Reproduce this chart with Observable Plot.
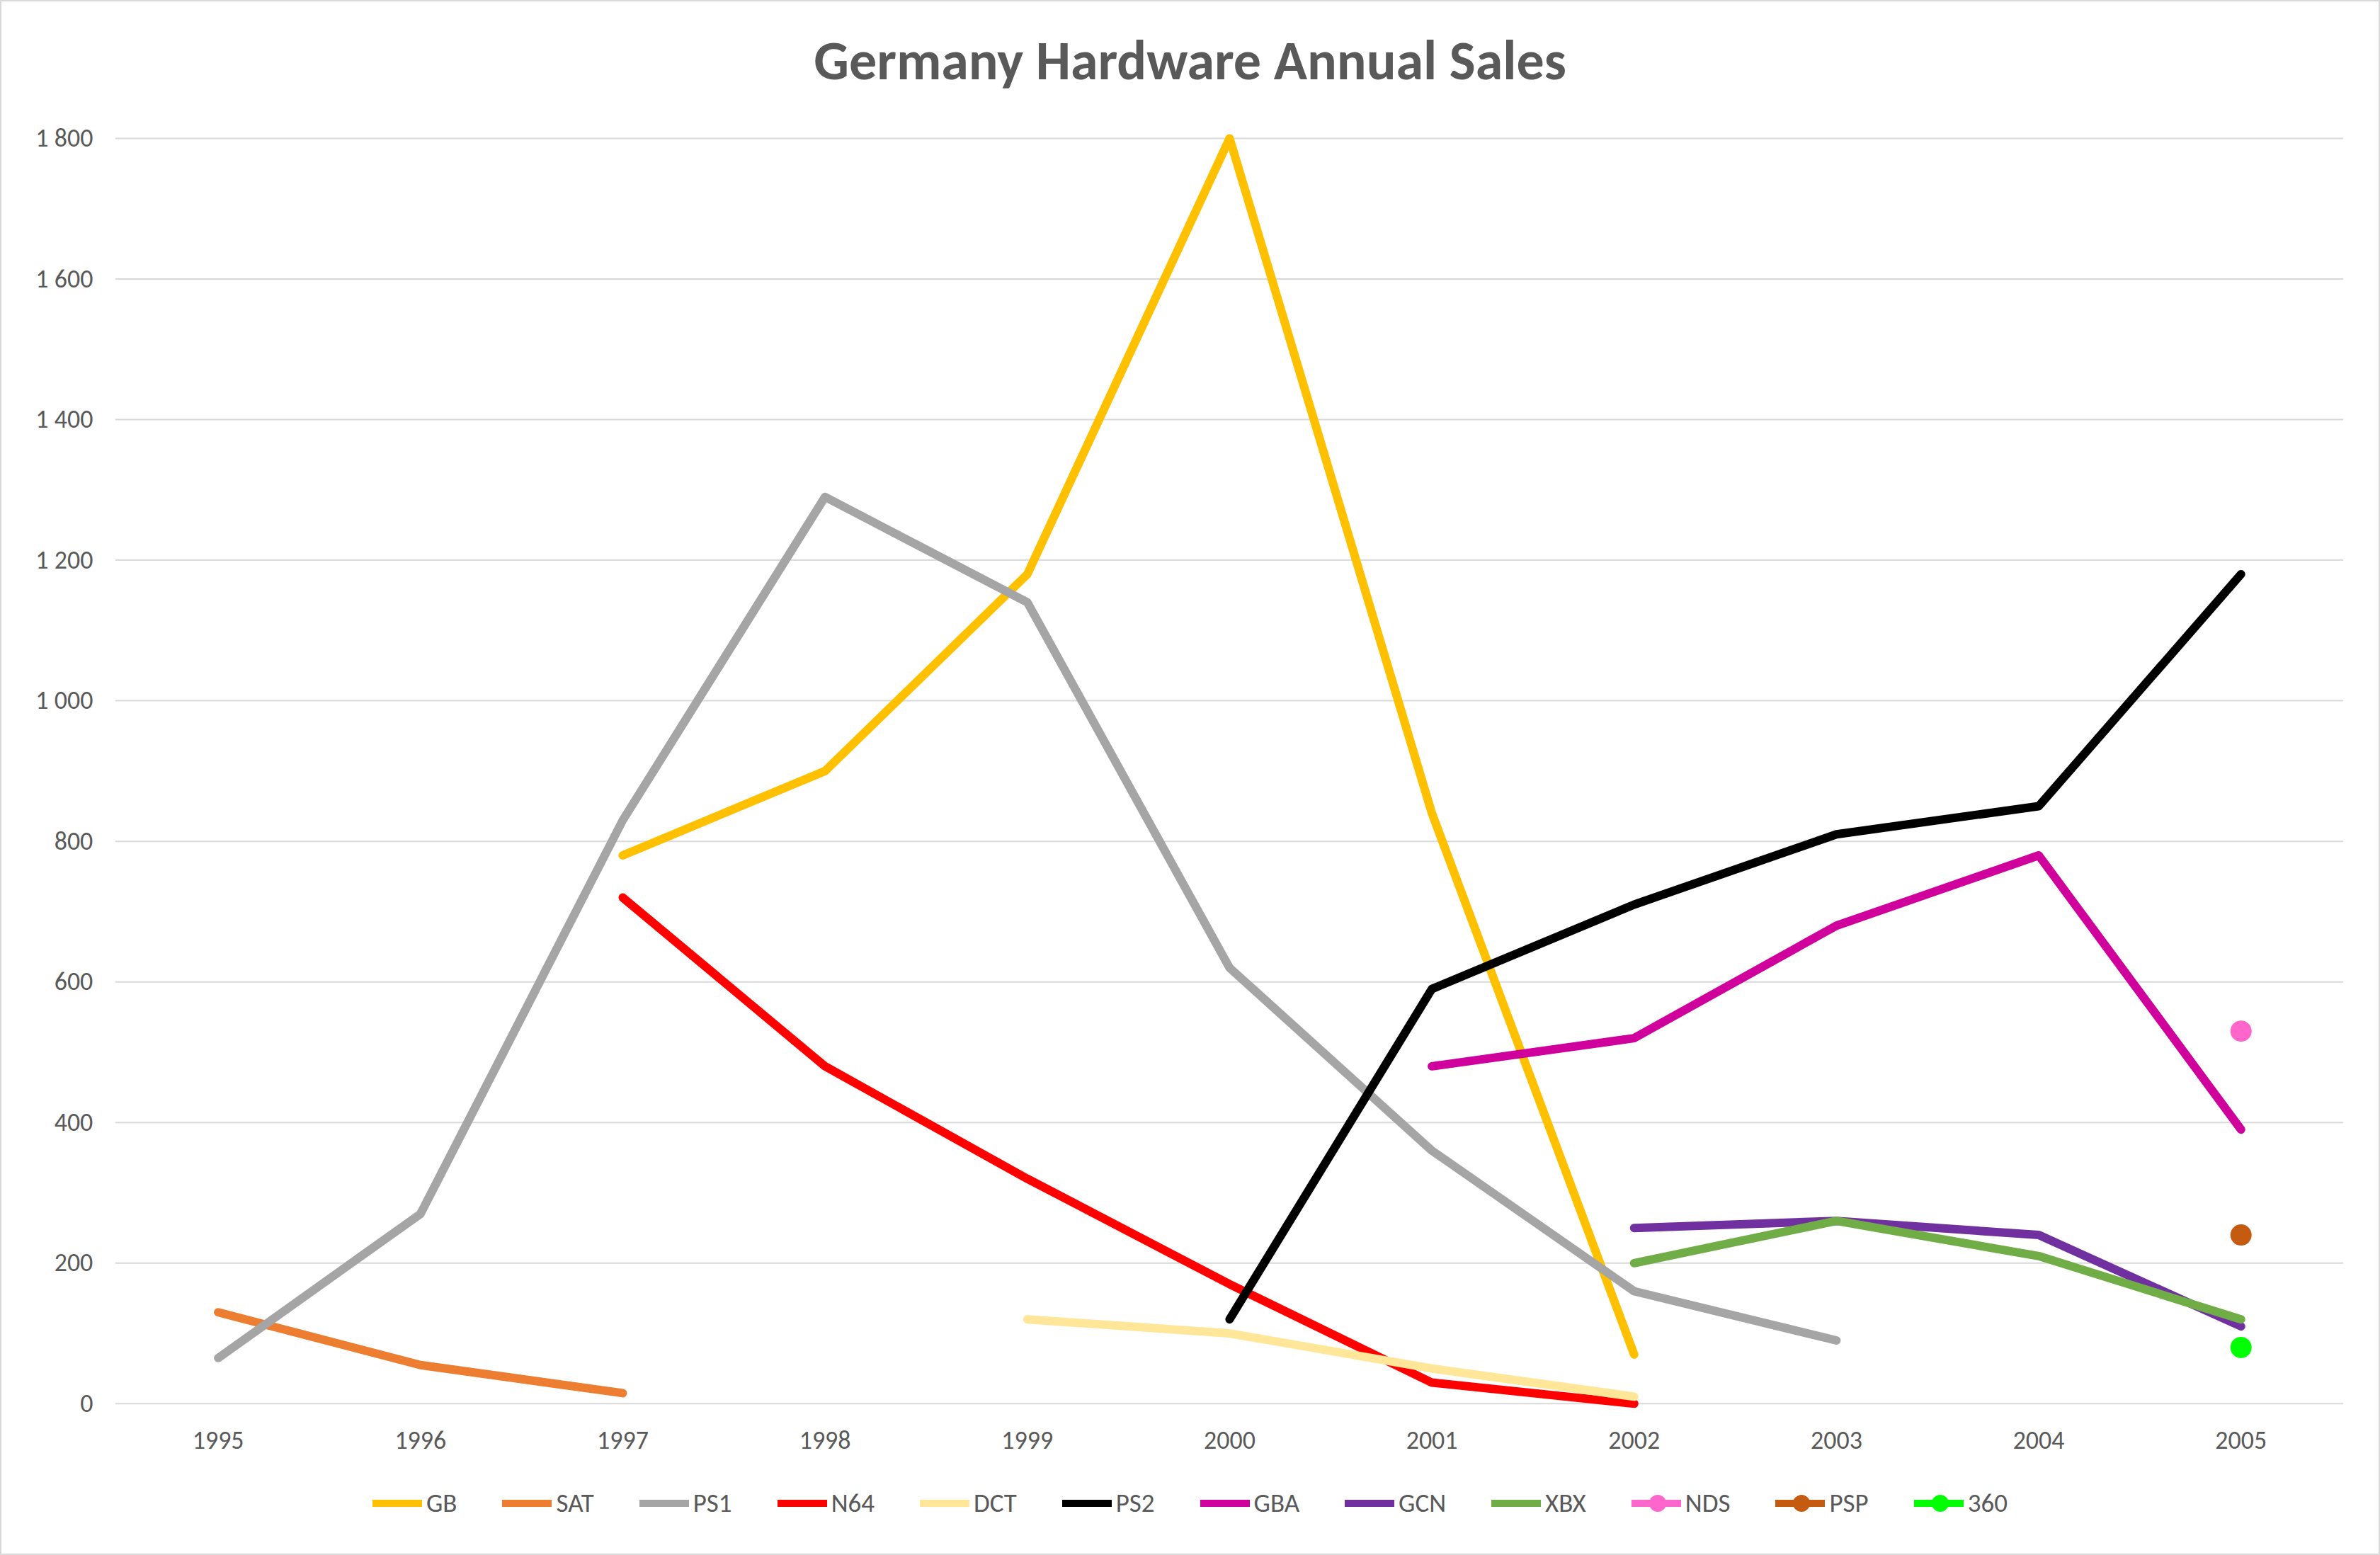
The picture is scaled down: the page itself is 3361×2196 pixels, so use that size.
<!DOCTYPE html>
<html><head><meta charset="utf-8">
<script src="https://cdn.jsdelivr.net/npm/d3@7"></script>
<script src="https://cdn.jsdelivr.net/npm/@observablehq/plot@0.6"></script>
<style>
body{margin:0;background:#fff;font-family:Calibri,Carlito,"Liberation Sans","Open Sans",sans-serif;}
#wrap{width:3357px;height:2192px;border:2px solid #d9d9d9;position:relative;overflow:hidden}
#title{position:absolute;top:36px;width:100%;text-align:center;font-size:78px;font-weight:bold;color:#595959}
#chart{position:absolute;top:150px;left:0}
#legend{position:absolute;top:2098px;width:100%;display:flex;justify-content:center;gap:64px;font-size:37px;color:#595959}
.it{display:flex;align-items:center;gap:6px}
.sw{width:70px;height:10px;position:relative}
.sw i{position:absolute;left:25px;top:-7px;width:24px;height:24px;border-radius:50%}
</style></head><body>
<div id="wrap"><div id="title">Germany Hardware Annual Sales</div><div id="chart"></div><div id="legend"></div></div>
<script>
const years=[1995,1996,1997,1998,1999,2000,2001,2002,2003,2004,2005];
const series=["GB","SAT","PS1","N64","DCT","PS2","GBA","GCN","XBX","NDS","PSP","360"];
const colors=["#FFC000","#ED7D31","#A5A5A5","#FF0000","#FFE699","#000000","#D0009C","#7030A0","#70AD47","#FF66CC","#C55A11","#00FF00"];
const GB=[null,null,780,900,1180,1800,840,70,null,null,null];
const SAT=[130,55,15,null,null,null,null,null,null,null,null];
const PS1=[65,270,830,1290,1140,620,360,160,90,null,null];
const N64=[null,null,720,480,320,170,30,0,null,null,null];
const DCT=[null,null,null,null,120,100,50,10,null,null,null];
const PS2=[null,null,null,null,null,120,590,710,810,850,1180];
const GBA=[null,null,null,null,null,null,480,520,680,780,390];
const GCN=[null,null,null,null,null,null,null,250,260,240,110];
const XBX=[null,null,null,null,null,null,null,200,260,210,120];
const NDS=[null,null,null,null,null,null,null,null,null,null,530];
const PSP=[null,null,null,null,null,null,null,null,null,null,240];
const X360=[null,null,null,null,null,null,null,null,null,null,80];
const vals=[GB,SAT,PS1,N64,DCT,PS2,GBA,GCN,XBX,NDS,PSP,X360];
const data=[];
series.forEach((s,i)=>vals[i].forEach((v,j)=>{if(v!=null)data.push({s,year:String(years[j]),v});}));
const lineData=data.filter(d=>!["NDS","PSP","360"].includes(d.s));
const dotData=data.filter(d=>["NDS","PSP","360"].includes(d.s));
const fmt=d=>d>=1000?`${Math.floor(d/1000)} ${String(d%1000).padStart(3,"0")}`:String(d);
const yt=[0,200,400,600,800,1000,1200,1400,1600,1800];
const plot=Plot.plot({
 width:3361,height:1950,marginLeft:161,marginRight:50,marginTop:43,marginBottom:118,
 style:{fontSize:"36px",color:"#595959",fontFamily:"Calibri,Carlito,'Liberation Sans',sans-serif"},
 x:{type:"point",domain:years.map(String),padding:0.5,label:null},
 y:{domain:[0,1800],label:null},
 color:{domain:series,range:colors},
 marks:[
  Plot.gridY(yt.slice(1),{stroke:"#d9d9d9",strokeOpacity:1,strokeWidth:2}),
  Plot.ruleY([0],{stroke:"#d9d9d9",strokeWidth:2}),
  Plot.axisX({tickSize:0,tickPadding:38,fontSize:36,label:null}),
  Plot.axisY({ticks:yt,tickFormat:fmt,tickSize:0,tickPadding:32,fontSize:36,label:null}),
  Plot.line(lineData,{x:"year",y:"v",z:"s",stroke:"s",strokeWidth:12,strokeLinejoin:"round"}),
  Plot.dot(dotData,{x:"year",y:"v",fill:"s",r:15})
 ]
});
document.getElementById("chart").appendChild(plot);
const lg=document.getElementById("legend");
series.forEach((s,i)=>{const dot=i>=9;lg.insertAdjacentHTML("beforeend",`<div class="it"><div class="sw" style="background:${colors[i]}">${dot?`<i style="background:${colors[i]}"></i>`:""}</div><span>${s}</span></div>`);});
</script></body></html>
